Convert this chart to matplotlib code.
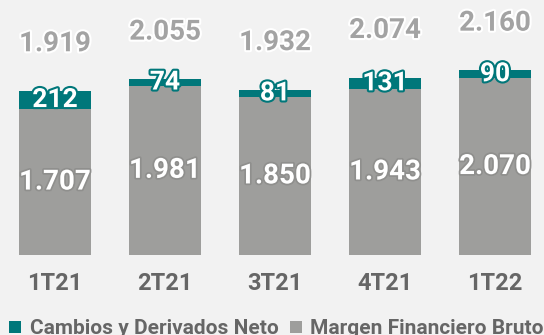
import matplotlib
matplotlib.use("Agg")
import matplotlib.pyplot as plt
import matplotlib.patheffects as pe
from matplotlib.patches import Patch

# Quarterly figures (millions)
quarters = ["1T21", "2T21", "3T21", "4T21", "1T22"]
margen_bruto = [1707, 1981, 1850, 1943, 2070]
cambios_neto = [212, 74, 81, 131, 90]
totals = [1919, 2055, 1932, 2074, 2160]

TEAL = "#00777a"
GRAY = "#9e9e9c"
BG = "#f2f2f2"

def fmt(v):
    return f"{v:,}".replace(",", ".")

plt.rcParams["font.family"] = ["Roboto", "DejaVu Sans"]
plt.rcParams["font.weight"] = "bold"

W, H = 544, 335
fig = plt.figure(figsize=(W / 100, H / 100), dpi=100, facecolor=BG)
base_px = 80  # baseline height from figure bottom in pixels
ax = fig.add_axes([0, base_px / H, 1, 1 - base_px / H])
ax.set_facecolor(BG)

units_per_px = 11.70
ax.set_ylim(0, (H - base_px) * units_per_px)
spacing = 110
ax.set_xlim(-0.5, -0.5 + W / spacing)

x = list(range(len(quarters)))
width = 0.655
ax.bar(x, margen_bruto, width=width, color=GRAY, zorder=2)
ax.bar(x, cambios_neto, width=width, bottom=margen_bruto, color=TEAL, zorder=2)

for i in x:
    # gray segment value
    ax.text(i, margen_bruto[i] / 2, fmt(margen_bruto[i]), ha="center", va="center",
            color="white", fontsize=20, fontweight="bold", zorder=3,
            path_effects=[pe.withStroke(linewidth=2.5, foreground="#8f8f8d")])
    # teal segment value
    ax.text(i, margen_bruto[i] + cambios_neto[i] / 2, fmt(cambios_neto[i]), ha="center",
            va="center", color="white", fontsize=19, fontweight="bold", zorder=3,
            path_effects=[pe.withStroke(linewidth=3, foreground=TEAL)])
    # total on top
    ax.annotate(fmt(totals[i]), (i, totals[i]), xytext=(0, 34), textcoords="offset points",
                ha="center", va="center", color="#a3a3a3", fontsize=20, fontweight="bold",
                zorder=3, path_effects=[pe.withStroke(linewidth=3, foreground="white")])

ax.set_xticks(x)
ax.set_xticklabels(quarters, fontsize=17, fontweight="bold", color="#666666")
ax.tick_params(axis="x", length=0, pad=12)
ax.set_yticks([])
for s in ax.spines.values():
    s.set_visible(False)

handles = [Patch(facecolor=TEAL, label="Cambios y Derivados Neto"),
           Patch(facecolor=GRAY, label="Margen Financiero Bruto")]
leg = fig.legend(handles=handles, loc="center", bbox_to_anchor=(276.5 / W, 6 / H),
                 ncol=2, frameon=False, fontsize=15, handlelength=0.56, handleheight=0.56,
                 handletextpad=0.42, columnspacing=0.56, borderaxespad=0, borderpad=0)
for t in leg.get_texts():
    t.set_color("#666666")
    t.set_fontweight("bold")

fig.savefig("out.png", dpi=100, facecolor=BG)
